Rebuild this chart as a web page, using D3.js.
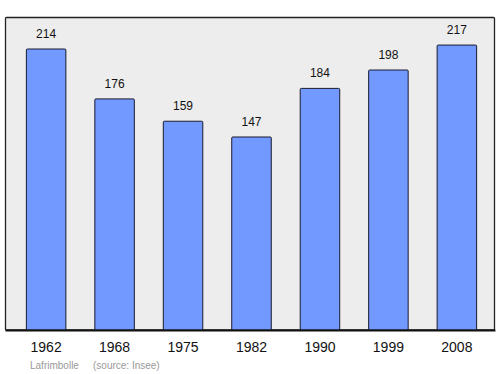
<!DOCTYPE html>
<html>
<head>
<meta charset="utf-8">
<script src="https://cdn.jsdelivr.net/npm/d3@7"></script>
<style>
  body { margin: 0; background: #fff; }
  text { font-family: "Liberation Sans", Arial, sans-serif; }
</style>
</head>
<body>
<div id="chart"></div>
<script>
// population by census year
const years = ["1962", "1968", "1975", "1982", "1990", "1999", "2008"];
const population = [214, 176, 159, 147, 184, 198, 217];
const yMax = 238;
const commune = "Lafrimbolle";
const source = "(source: Insee)";

const width = 500, height = 374;
const box = {left: 5.5, top: 17.5, right: 494.5, bottom: 330};

const svg = d3.select("#chart").append("svg")
    .attr("width", width)
    .attr("height", height);

// plot background
svg.append("rect")
    .attr("x", box.left)
    .attr("y", box.top)
    .attr("width", box.right - box.left)
    .attr("height", box.bottom - box.top)
    .attr("rx", 1)
    .attr("fill", "#ededed")
    .attr("stroke", "#222")
    .attr("stroke-width", 1.3);

var x = d3.scaleBand()
    .domain(years)
    .range([box.left + 1.5, box.right + 1.5])
    .paddingInner(0.423)
    .paddingOuter(0.283);

var y = d3.scaleLinear()
    .domain([0, yMax])
    .range([box.bottom, box.top]);

svg.selectAll("rect.bar")
    .data(population)
    .enter()
    .append("rect")
    .attr("class", "bar")
    .attr("x", (d, i) => x(years[i]))
    .attr("y", d => y(d))
    .attr("width", x.bandwidth())
    .attr("height", d => box.bottom - y(d))
    .attr("rx", 1)
    .attr("fill", "#7199ff")
    .attr("stroke", "#1a1a2e")
    .attr("stroke-width", 1);

svg.selectAll("text.val")
    .data(population)
    .enter()
    .append("text")
    .attr("class", "val")
    .attr("x", (d, i) => x(years[i]) + x.bandwidth() / 2)
    .attr("y", d => y(d) - 11)
    .attr("text-anchor", "middle")
    .attr("font-size", 12)
    .attr("fill", "#111")
    .text(d => d);

// bottom axis line
svg.append("line")
    .attr("x1", box.left)
    .attr("x2", box.right + 1)
    .attr("y1", box.bottom + 0.5)
    .attr("y2", box.bottom + 0.5)
    .attr("stroke", "#111")
    .attr("stroke-width", 2);

svg.selectAll("text.year")
    .data(years)
    .enter()
    .append("text")
    .attr("class", "year")
    .attr("x", d => x(d) + x.bandwidth() / 2)
    .attr("y", 352)
    .attr("text-anchor", "middle")
    .attr("font-size", 14)
    .attr("fill", "#111")
    .text(d => d);

svg.append("text")
    .attr("x", 30)
    .attr("y", 369)
    .attr("font-size", 10)
    .attr("fill", "#999")
    .text(commune);

svg.append("text")
    .attr("x", 93)
    .attr("y", 369)
    .attr("font-size", 10)
    .attr("fill", "#999")
    .text(source);
</script>
</body>
</html>
